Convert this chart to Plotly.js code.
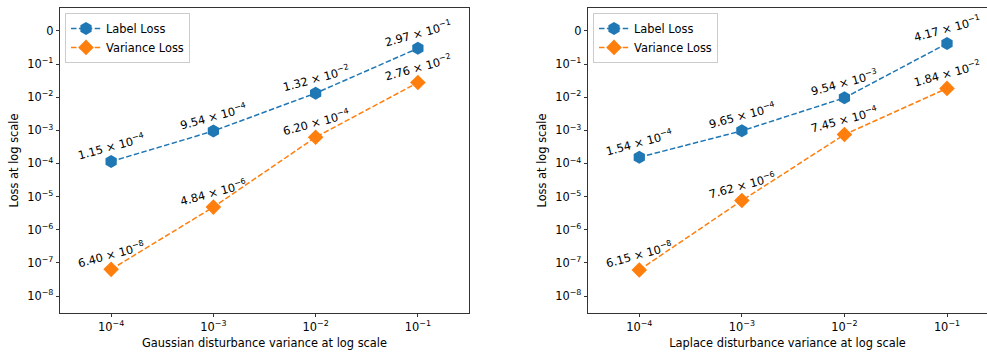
<!DOCTYPE html>
<html>
<head>
<meta charset="utf-8">
<script src="https://cdn.plot.ly/plotly-3.0.1.min.js"></script>
<style>html,body{margin:0;padding:0;background:#fff;}#chart{width:987px;height:352px;}</style>
</head>
<body>
<div id="chart"></div>
<script>
// ---- data ----
const variances = [1e-4, 1e-3, 1e-2, 1e-1];
const gaussLabelLoss = [1.15e-4, 9.54e-4, 1.32e-2, 2.97e-1];
const gaussVarianceLoss = [6.40e-8, 4.84e-6, 6.20e-4, 2.76e-2];
const laplaceLabelLoss = [1.54e-4, 9.65e-4, 9.54e-3, 4.17e-1];
const laplaceVarianceLoss = [6.15e-8, 7.62e-6, 7.45e-4, 1.84e-2];
const xTickVals = [1e-4, 1e-3, 1e-2, 1e-1];
const xTickText = ["10<sup>−4</sup>", "10<sup>−3</sup>", "10<sup>−2</sup>", "10<sup>−1</sup>"];
const yTickVals = [1, 1e-1, 1e-2, 1e-3, 1e-4, 1e-5, 1e-6, 1e-7, 1e-8];
const yTickText = ["0", "10<sup>−1</sup>", "10<sup>−2</sup>", "10<sup>−3</sup>", "10<sup>−4</sup>", "10<sup>−5</sup>", "10<sup>−6</sup>", "10<sup>−7</sup>", "10<sup>−8</sup>"];
const seriesNames = ["Label Loss", "Variance Loss"];
const xTitles = ["Gaussian disturbance variance at log scale", "Laplace disturbance variance at log scale"];
const yTitle = "Loss at log scale";

// ---- styling ----
const BLUE = "#1f77b4", ORANGE = "#ff7f0e";
const FONT = {family: "DejaVu Sans, sans-serif", size: 11.4, color: "#000"};
const W = 987, H = 352;

function fmt(v) {
  const e = Math.floor(Math.log10(v));
  const m = v / Math.pow(10, e);
  return m.toFixed(2) + " × 10<sup>" + (e < 0 ? "−" + (-e) : e) + "</sup>";
}

function mkTrace(y, name, color, symbol, size, xa, ya, legend) {
  return {
    x: variances, y: y, name: name, type: "scatter", mode: "lines+markers",
    xaxis: xa, yaxis: ya, legend: legend,
    line: {color: color, width: 1.5, dash: "5.5px,2.4px"},
    marker: {color: color, symbol: symbol, size: size, line: {width: 0}}
  };
}

const traces = [
  mkTrace(gaussLabelLoss, seriesNames[0], BLUE, "hexagon", 13, "x", "y", "legend"),
  mkTrace(gaussVarianceLoss, seriesNames[1], ORANGE, "diamond", 12, "x", "y", "legend"),
  mkTrace(laplaceLabelLoss, seriesNames[0], BLUE, "hexagon", 13, "x2", "y2", "legend2"),
  mkTrace(laplaceVarianceLoss, seriesNames[1], ORANGE, "diamond", 12, "x2", "y2", "legend2")
];

const annotations = [];
function addAnn(ys, xr, yr) {
  ys.forEach((v, i) => {
    annotations.push({
      x: Math.log10(variances[i]), y: Math.log10(v), xref: xr, yref: yr,
      text: fmt(v), showarrow: false, textangle: -15, yshift: 15,
      font: FONT
    });
  });
}
addAnn(gaussLabelLoss, "x", "y");
addAnn(gaussVarianceLoss, "x", "y");
addAnn(laplaceLabelLoss, "x2", "y2");
addAnn(laplaceVarianceLoss, "x2", "y2");

function xAxis(domain, range, title, anchor) {
  return {
    type: "log", domain: domain, range: range, anchor: anchor,
    tickvals: xTickVals, ticktext: xTickText, tickfont: FONT,
    ticks: "outside", ticklen: 3.5, tickwidth: 0.8, tickcolor: "#000",
    showline: true, linecolor: "#000", linewidth: 0.8, mirror: true,
    showgrid: false, zeroline: false,
    title: {text: title, font: FONT, standoff: 5}
  };
}
function yAxis(range, anchor, mirror) {
  return {
    type: "log", domain: [0, 1], range: range, anchor: anchor,
    tickvals: yTickVals, ticktext: yTickText, tickfont: FONT,
    ticks: "outside", ticklen: 3.5, tickwidth: 0.8, tickcolor: "#000",
    showline: true, linecolor: "#000", linewidth: 0.8, mirror: mirror,
    showgrid: false, zeroline: false,
    title: {text: yTitle, font: FONT, standoff: 6}
  };
}

const yRange = [-8.51, 0.69];
const legendStyle = (x) => ({
  x: x, y: 0.984, xanchor: "left", yanchor: "top", xref: "paper", yref: "paper",
  bgcolor: "rgba(255,255,255,0.8)", bordercolor: "#cccccc", borderwidth: 1,
  font: FONT, itemwidth: 30, tracegroupgap: 0
});

const layout = {
  width: W, height: H,
  margin: {l: 0, r: 0, t: 8, b: 39, pad: 0},
  paper_bgcolor: "#fff", plot_bgcolor: "#fff",
  font: FONT,
  showlegend: true,
  xaxis: xAxis([60 / W, 469 / W], [-4.5, -0.5], xTitles[0], "y"),
  yaxis: yAxis(yRange, "x", true),
  xaxis2: xAxis([588 / W, 1], [-4.5, -0.61], xTitles[1], "y2"),
  yaxis2: yAxis(yRange, "x2", false),
  legend: legendStyle(65 / W),
  legend2: legendStyle(593 / W),
  annotations: annotations
};

Plotly.newPlot("chart", traces, layout, {staticPlot: true, displayModeBar: false});
</script>
</body>
</html>
